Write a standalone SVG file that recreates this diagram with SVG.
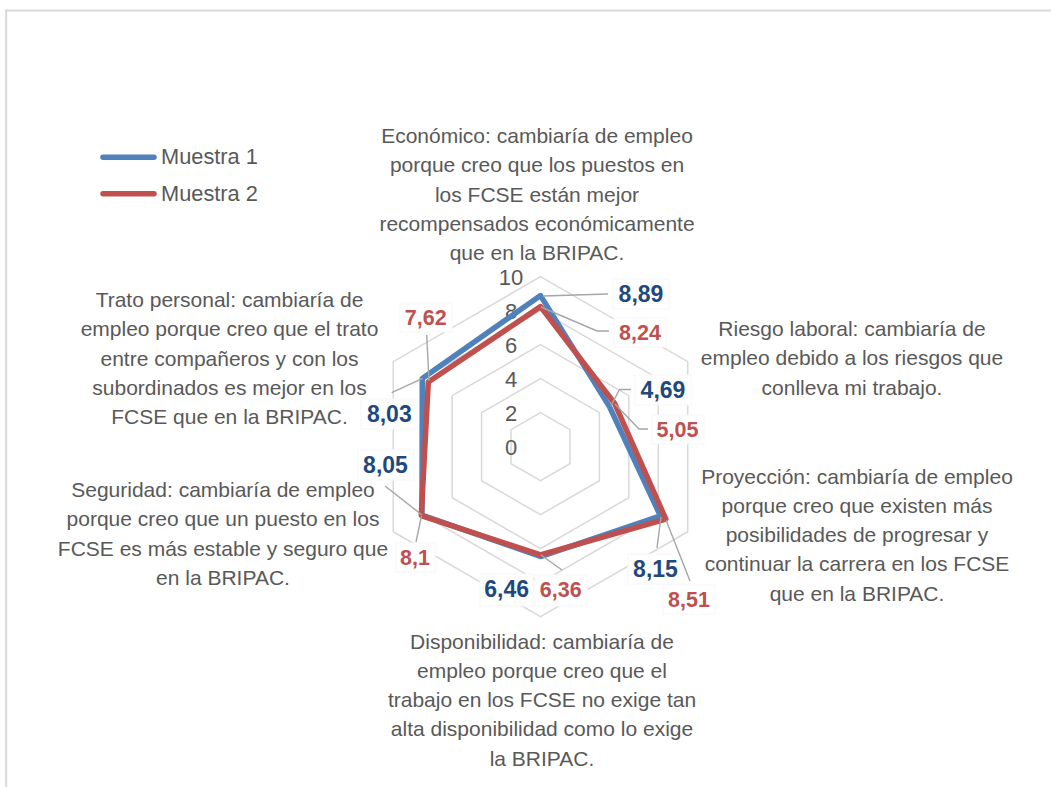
<svg xmlns="http://www.w3.org/2000/svg" width="1051" height="787" viewBox="0 0 1051 787">
<style>
.cat{font-family:"Liberation Sans",Arial,sans-serif;font-size:21px;fill:#595959;text-anchor:middle}
.tick{font-family:"Liberation Sans",Arial,sans-serif;font-size:22px;fill:#595959;text-anchor:middle}
.leg{font-family:"Liberation Sans",Arial,sans-serif;font-size:21.8px;fill:#595959}
.vb{font-family:"Liberation Sans",Arial,sans-serif;font-size:23px;font-weight:bold;fill:#1F497D;text-anchor:middle}
.vr{font-family:"Liberation Sans",Arial,sans-serif;font-size:21.5px;font-weight:bold;fill:#C0504D;text-anchor:middle}
.grid{fill:none;stroke:#D9D9D9;stroke-width:1.5}
.s1{fill:none;stroke:#4F81BD;stroke-width:5.5;stroke-linejoin:round}
.s2{fill:none;stroke:#C0504D;stroke-width:5.5;stroke-linejoin:round}
.lead{fill:none;stroke:#A6A6A6;stroke-width:1.4}
.bg{fill:#FFFFFF;stroke:#F7F7F7;stroke-width:1}
</style>
<rect x="0" y="0" width="1051" height="787" fill="#FFFFFF"/>
<g id="frame">
<line x1="5" y1="10.5" x2="1051" y2="10.5" stroke="#D9D9D9" stroke-width="2"/>
<line x1="6.2" y1="9.5" x2="6.2" y2="787" stroke="#D9D9D9" stroke-width="2"/>
</g>
<g id="grid">
<polygon class="grid" points="540.5,412.7 569.94,429.7 569.94,463.7 540.5,480.7 511.06,463.7 511.06,429.7"/>
<polygon class="grid" points="540.5,378.7 599.39,412.7 599.39,480.7 540.5,514.7 481.61,480.7 481.61,412.7"/>
<polygon class="grid" points="540.5,344.7 628.83,395.7 628.83,497.7 540.5,548.7 452.17,497.7 452.17,395.7"/>
<polygon class="grid" points="540.5,310.7 658.28,378.7 658.28,514.7 540.5,582.7 422.72,514.7 422.72,378.7"/>
<polygon class="grid" points="540.5,276.7 687.72,361.7 687.72,531.7 540.5,616.7 393.28,531.7 393.28,361.7"/>
</g>
<g id="ticks">
<text class="tick" x="511" y="285">10</text>
<text class="tick" x="511" y="319">8</text>
<text class="tick" x="511" y="353">6</text>
<text class="tick" x="511" y="387">4</text>
<text class="tick" x="511" y="421">2</text>
<text class="tick" x="511" y="455">0</text>
</g>
<g id="label-bg">
<rect class="bg" x="613" y="279" width="56" height="30"/>
<rect class="bg" x="614" y="318" width="52" height="29"/>
<rect class="bg" x="635" y="375" width="56" height="30"/>
<rect class="bg" x="652" y="415" width="52" height="29"/>
<rect class="bg" x="628" y="554" width="56" height="30"/>
<rect class="bg" x="663" y="585" width="52" height="29"/>
<rect class="bg" x="480" y="574" width="53" height="32"/>
<rect class="bg" x="535" y="575" width="52" height="31"/>
<rect class="bg" x="396" y="543" width="39" height="29"/>
<rect class="bg" x="358" y="450" width="56" height="30"/>
<rect class="bg" x="361" y="399" width="56" height="30"/>
<rect class="bg" x="400" y="303" width="52" height="29"/>
</g>
<g id="series">
<polygon id="muestra1" class="s1" points="540.5,295.6 609.55,406.83 660.49,515.98 540.5,556.52 421.98,515.13 422.28,378.44"/>
<polygon id="muestra2" class="s2" points="540.5,306.62 614.85,403.77 665.79,519.04 540.5,554.82 421.25,515.55 428.32,381.93"/>
</g>
<g id="connectors">
<path class="lead" d="M543 296 L608 294"/>
<path class="lead" d="M541 307 L597 331 L609 331"/>
<path class="lead" d="M611 406 L619.5 389.5 L631 389.5"/>
<path class="lead" d="M615 404 L639 429 L648 429"/>
<path class="lead" d="M661 517 L657 548"/>
<path class="lead" d="M666 520 L690 581"/>
<path class="lead" d="M541 555 L562 570"/>
<path class="lead" d="M421.5 516 L416 542"/>
<path class="lead" d="M422 515 L385 486"/>
<path class="lead" d="M422.7 378.3 L391.7 392.7"/>
<path class="lead" d="M429 381 L426.7 335"/>
</g>
<g id="values">
<text class="vb" x="641" y="302">8,89</text>
<text class="vr" x="640" y="340">8,24</text>
<text class="vb" x="663" y="398">4,69</text>
<text class="vr" x="677.5" y="437">5,05</text>
<text class="vb" x="655.5" y="577">8,15</text>
<text class="vr" x="689" y="607">8,51</text>
<text class="vb" x="506.7" y="597">6,46</text>
<text class="vr" x="560.8" y="597">6,36</text>
<text class="vr" x="415" y="565">8,1</text>
<text class="vb" x="385.5" y="473">8,05</text>
<text class="vb" x="389.3" y="422">8,03</text>
<text class="vr" x="425.8" y="325">7,62</text>
</g>
<g id="cat-economico">
<text class="cat" x="537" y="143">Económico: cambiaría de empleo</text>
<text class="cat" x="537" y="172.3">porque creo que los puestos en</text>
<text class="cat" x="537" y="201.6">los FCSE están mejor</text>
<text class="cat" x="537" y="230.9">recompensados económicamente</text>
<text class="cat" x="537" y="260.2">que en la BRIPAC.</text>
</g>
<g id="cat-riesgo">
<text class="cat" x="852" y="336">Riesgo laboral: cambiaría de</text>
<text class="cat" x="852" y="365.3">empleo debido a los riesgos que</text>
<text class="cat" x="852" y="394.6">conlleva mi trabajo.</text>
</g>
<g id="cat-proyeccion">
<text class="cat" x="857" y="483.5">Proyección: cambiaría de empleo</text>
<text class="cat" x="857" y="512.8">porque creo que existen más</text>
<text class="cat" x="857" y="542.1">posibilidades de progresar y</text>
<text class="cat" x="857" y="571.4">continuar la carrera en los FCSE</text>
<text class="cat" x="857" y="600.7">que en la BRIPAC.</text>
</g>
<g id="cat-disponibilidad">
<text class="cat" x="542" y="648.5">Disponibilidad: cambiaría de</text>
<text class="cat" x="542" y="677.8">empleo porque creo que el</text>
<text class="cat" x="542" y="707.1">trabajo en los FCSE no exige tan</text>
<text class="cat" x="542" y="736.4">alta disponibilidad como lo exige</text>
<text class="cat" x="542" y="765.7">la BRIPAC.</text>
</g>
<g id="cat-seguridad">
<text class="cat" x="223" y="497">Seguridad: cambiaría de empleo</text>
<text class="cat" x="223" y="526.3">porque creo que un puesto en los</text>
<text class="cat" x="223" y="555.6">FCSE es más estable y seguro que</text>
<text class="cat" x="223" y="584.9">en la BRIPAC.</text>
</g>
<g id="cat-trato">
<text class="cat" x="229.5" y="307">Trato personal: cambiaría de</text>
<text class="cat" x="229.5" y="336.3">empleo porque creo que el trato</text>
<text class="cat" x="229.5" y="365.6">entre compañeros y con los</text>
<text class="cat" x="229.5" y="394.9">subordinados es mejor en los</text>
<text class="cat" x="229.5" y="424.2">FCSE que en la BRIPAC.</text>
</g>
<g id="legend">
<line x1="103" y1="157.3" x2="154" y2="157.3" stroke="#4F81BD" stroke-width="5.5" stroke-linecap="round"/>
<text class="leg" x="161" y="164.3">Muestra 1</text>
<line x1="103" y1="193.7" x2="154" y2="193.7" stroke="#C0504D" stroke-width="5.5" stroke-linecap="round"/>
<text class="leg" x="161" y="200.7">Muestra 2</text>
</g>
</svg>
